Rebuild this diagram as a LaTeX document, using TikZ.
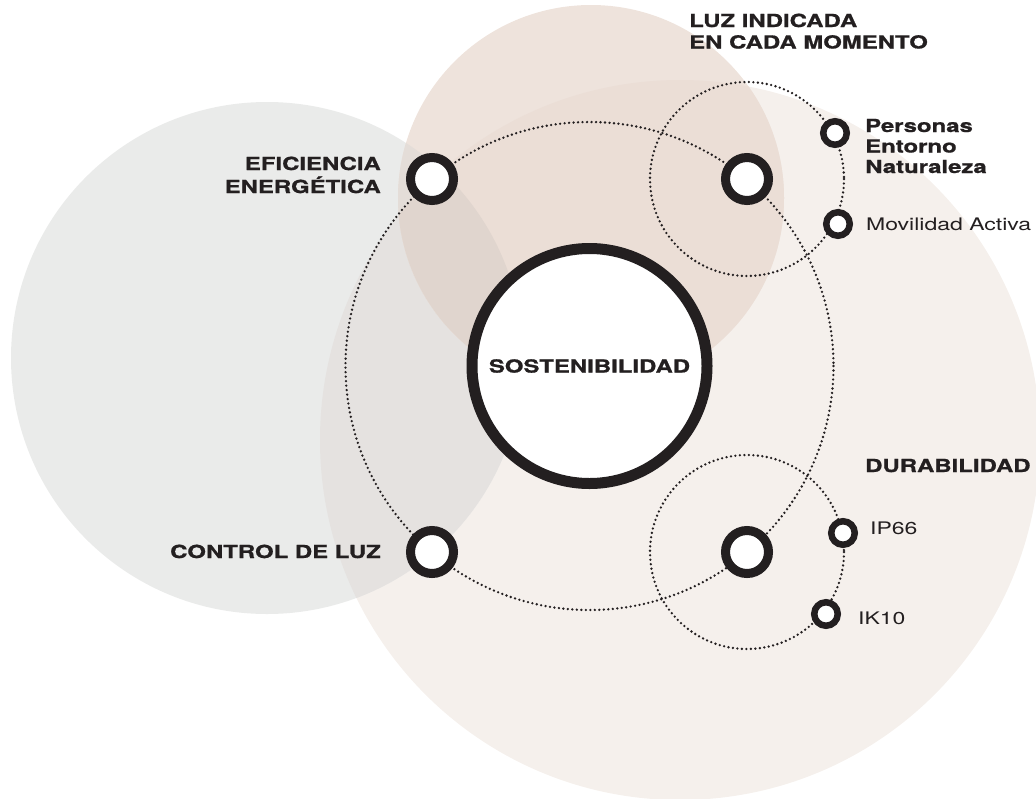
\documentclass[tikz,border=0pt]{standalone}
\usepackage{fontspec}
\setmainfont{TeX Gyre Heros}[FakeStretch=1.33, BoldFeatures={FakeBold=0.9}]
\definecolor{ink}{HTML}{231F20}
\definecolor{cBeige}{HTML}{F5F0EC}
\definecolor{cGrey}{HTML}{EAEBEA}
\definecolor{cGreyBeige}{HTML}{E5E2E0}
\definecolor{cPink}{HTML}{EEE3DC}
\definecolor{cPinkBeige}{HTML}{EBDED6}
\definecolor{cPinkGrey}{HTML}{E4DDD8}
\definecolor{cAll}{HTML}{E0D5CE}
\tikzset{
  dotline/.style={draw=ink, line width=2.6pt, line cap=round, dash pattern=on 0pt off 4.5pt},
  bignode/.style={circle, draw=ink, line width=11pt, fill=white, minimum size=235pt, inner sep=0pt,
    font=\fontsize{18}{21}\selectfont\bfseries, text=ink},
  hub/.style={circle, draw=ink, line width=9pt, fill=white, minimum size=43pt, inner sep=0pt},
  leaf/.style={circle, draw=ink, line width=6.5pt, fill=white, minimum size=23.5pt, inner sep=0pt},
  lab/.style={inner sep=0pt, text=ink, font=\fontsize{18}{21.5}\selectfont\bfseries},
  sublab/.style={inner sep=0pt, text=ink, font=\fontsize{18}{20.5}\selectfont\bfseries},
  lightlab/.style={inner sep=0pt, text=ink, font=\fontsize{17.3}{21}\selectfont},
}
\begin{document}
\begin{tikzpicture}[x=1pt,y=-1pt]
\useasboundingbox (0,0) rectangle (1036,798);
% background discs
\fill[cBeige] (680,440) circle[radius=360];
\fill[cGrey] (267,358) circle[radius=256];
\begin{scope}
  \clip (680,440) circle[radius=360];
  \fill[cGreyBeige] (267,358) circle[radius=256];
\end{scope}
\fill[cPink] (591,198) circle[radius=193];
\begin{scope}
  \clip (591,198) circle[radius=193];
  \fill[cPinkGrey] (267,358) circle[radius=256];
  \fill[cPinkBeige] (680,440) circle[radius=360];
  \clip (680,440) circle[radius=360];
  \fill[cAll] (267,358) circle[radius=256];
\end{scope}
% centre coordinates
\coordinate (c) at (589.5,366);
\coordinate (cl) at (747,179);
\coordinate (cd) at (747,552);
% dotted orbits
\draw[dotline] (c) circle[radius=244];
\draw[dotline] (cl) circle[radius=97];
\draw[dotline] (cd) circle[radius=97];
% nodes
\node[bignode] (sost) at (c) {SOSTENIBILIDAD};
\node[hub] (eff) at (432,179) {};
\node[hub] (luz) at (cl) {};
\node[hub] (ctrl) at (432,552) {};
\node[hub] (dur) at (cd) {};
\node[leaf] (pers) at (835,133) {};
\node[leaf] (mov) at (838,224) {};
\node[leaf] (ip) at (843,533) {};
\node[leaf] (ik) at (826,614) {};
% labels
\node[lab, anchor=base east] (effl) at (381,170)
  {\begin{tabular}[t]{@{}r@{}}EFICIENCIA\\ENERGÉTICA\end{tabular}};
\node[lab, anchor=base east] (ctrll) at (381,558) {CONTROL DE LUZ};
\node[lab, anchor=base west] (luzl) at (689,27)
  {\begin{tabular}[t]{@{}l@{}}LUZ INDICADA\\EN CADA MOMENTO\end{tabular}};
\node[sublab, anchor=base west] (persl) at (865,132)
  {\begin{tabular}[t]{@{}l@{}}Personas\\Entorno\\Naturaleza\end{tabular}};
\node[lightlab, anchor=base west] (movl) at (866,230) {Movilidad Activa};
\node[lab, anchor=base west] (durl) at (865,472) {DURABILIDAD};
\node[lightlab, anchor=base west] (ipl) at (870,534) {IP66};
\node[lightlab, anchor=base west] (ikl) at (858,624) {IK10};
\end{tikzpicture}
\end{document}
